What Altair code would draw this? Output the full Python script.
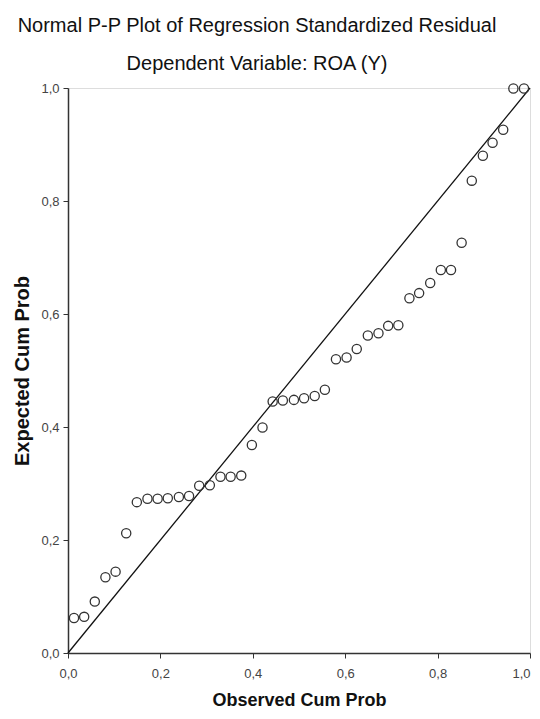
import altair as alt
import pandas as pd

# Observed vs expected cumulative probabilities
observed = [0.013, 0.035, 0.058, 0.081, 0.103, 0.126, 0.149, 0.172, 0.194, 0.216,
            0.240, 0.262, 0.284, 0.307, 0.330, 0.352, 0.375, 0.398, 0.421, 0.443,
            0.465, 0.489, 0.511, 0.534, 0.556, 0.580, 0.603, 0.625, 0.649, 0.672,
            0.693, 0.715, 0.739, 0.760, 0.784, 0.807, 0.829, 0.852, 0.874, 0.898,
            0.919, 0.942, 0.964, 0.987]
expected = [0.062, 0.064, 0.091, 0.134, 0.144, 0.212, 0.267, 0.273, 0.273, 0.274,
            0.276, 0.278, 0.296, 0.297, 0.312, 0.312, 0.314, 0.368, 0.399, 0.445,
            0.447, 0.448, 0.451, 0.455, 0.466, 0.520, 0.523, 0.538, 0.562, 0.566,
            0.579, 0.580, 0.628, 0.637, 0.655, 0.678, 0.678, 0.726, 0.836, 0.880,
            0.903, 0.926, 0.999, 0.999]
ref_line = [0.0, 1.0]
ticks = [0.0, 0.2, 0.4, 0.6, 0.8, 1.0]

df = pd.DataFrame({"observed": observed, "expected": expected})
ref = pd.DataFrame({"observed": ref_line, "expected": ref_line})

label_expr = "replace(format(datum.value, '.1f'), '.', ',')"
FONT = "Liberation Sans"

xscale = alt.Scale(domain=[0, 1], nice=False, zero=False)
yscale = alt.Scale(domain=[0, 1], nice=False, zero=False)

x_axis = alt.Axis(values=ticks, labelExpr=label_expr, grid=False, title="Observed Cum Prob",
                  tickSize=5, tickColor="#333", domainColor="#333", domainWidth=1.5,
                  labelFont=FONT, labelFontSize=13, labelColor="#444", labelPadding=9,
                  labelFlush=False,
                  labelAlign={"condition": {"test": "datum.value >= 1", "value": "right"},
                              "value": "center"},
                  titleFont=FONT, titleFontSize=18, titleFontWeight="bold", titleColor="#111",
                  titlePadding=11)
y_axis = alt.Axis(values=ticks, labelExpr=label_expr, grid=False, title="Expected Cum Prob",
                  tickSize=5, tickColor="#333", domainColor="#333", domainWidth=1.5,
                  labelFont=FONT, labelFontSize=13, labelColor="#444", labelPadding=4,
                  labelFlush=False,
                  titleFont=FONT, titleFontSize=20, titleFontWeight="bold", titleColor="#111",
                  titlePadding=8)

line = alt.Chart(ref).mark_line(color="#111", strokeWidth=1.3).encode(
    x=alt.X("observed:Q", scale=xscale, axis=x_axis),
    y=alt.Y("expected:Q", scale=yscale, axis=y_axis),
)

points = alt.Chart(df).mark_point(shape="circle", filled=False, size=85,
                                  strokeWidth=1.3, color="#333", opacity=1).encode(
    x=alt.X("observed:Q", scale=xscale),
    y=alt.Y("expected:Q", scale=yscale),
)

chart = alt.layer(line, points).properties(
    width=462,
    height=565,
    title=alt.TitleParams(
        text="Normal P-P Plot of Regression Standardized Residual",
        subtitle="Dependent Variable: ROA (Y)",
        font=FONT, fontSize=20, fontWeight="normal", color="#111",
        subtitleFont=FONT, subtitleFontSize=20, subtitleColor="#111",
        subtitlePadding=18, anchor="middle", dx=-42, offset=7,
    ),
    autosize=alt.AutoSizeParams(type="none"),
    padding={"left": 60, "top": 80, "right": 2, "bottom": 58},
).configure_view(
    fill="#efefef", stroke="#555", strokeWidth=1.5
).configure(background="white")

chart.save("out.html", embed_options={"renderer": "svg", "actions": False})
